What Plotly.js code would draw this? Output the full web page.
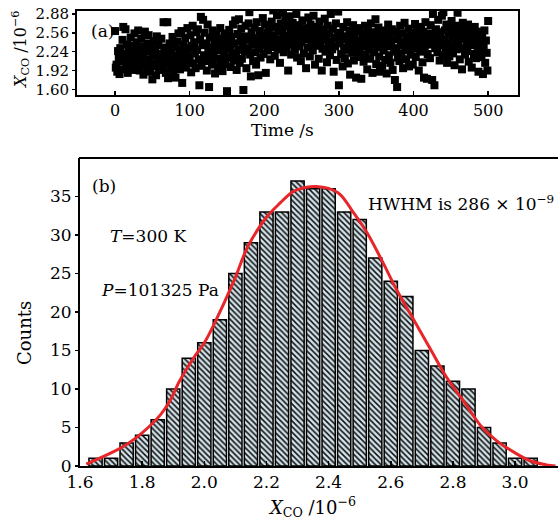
<!DOCTYPE html>
<html><head><meta charset="utf-8">
<script src="https://cdn.plot.ly/plotly-3.0.1.min.js"></script>
<style>html,body{margin:0;padding:0;background:#fff;}#chart{width:558px;height:523px;}</style>
</head><body><div id="chart"></div>
<script>
// Panel (a): X_CO concentration (10^-6) sampled once per second, 0..500 s
const concValues = [
2.59,1.97,2.02,1.90,2.25,2.12,1.86,2.30,2.08,2.18,
2.44,2.66,1.94,2.20,2.62,2.05,2.36,1.88,2.27,2.14,
2.00,2.48,2.22,1.93,2.34,2.10,2.55,1.98,2.16,2.40,
2.05,2.60,2.28,1.92,2.12,2.46,2.02,2.21,1.85,2.33,
2.58,2.08,2.24,1.96,2.38,2.52,2.11,1.90,2.29,2.04,
1.77,2.18,2.42,1.99,2.26,1.84,2.50,2.09,2.35,1.93,
2.20,2.03,2.46,2.13,1.95,2.74,2.31,2.07,1.88,2.22,
2.74,1.79,2.15,2.38,1.98,2.27,2.06,2.49,1.91,2.17,
2.32,1.80,2.10,2.41,2.01,2.55,2.19,1.94,2.28,2.59,
1.71,2.12,2.36,2.05,2.47,1.97,2.23,2.64,2.09,2.30,
2.16,2.52,1.89,2.34,2.68,2.04,2.40,2.21,1.96,2.57,
2.27,2.62,2.11,1.67,2.45,2.83,2.00,2.35,2.78,2.18,
2.56,2.08,2.38,1.92,2.70,2.25,1.64,2.48,2.14,2.31,
2.02,2.60,2.22,2.43,1.87,2.33,2.53,2.12,1.99,2.40,
2.26,2.64,2.06,2.46,1.91,2.36,2.18,2.55,2.03,2.29,
1.57,2.44,2.14,2.61,2.32,1.98,2.49,2.21,2.70,2.09,
2.38,2.77,2.17,1.93,2.54,2.27,2.79,2.05,2.42,2.63,
2.12,2.35,1.59,2.50,2.24,2.68,1.96,2.44,2.30,2.72,
2.91,2.19,1.82,2.57,2.36,2.08,2.47,2.65,2.23,2.02,
2.74,2.41,1.84,2.29,2.59,2.14,2.50,2.34,2.81,2.20,
2.46,2.70,1.88,2.38,2.56,2.26,2.63,2.42,2.11,2.52,
2.75,2.32,2.94,2.48,2.17,2.66,2.40,2.86,2.28,2.58,
2.45,2.05,2.72,2.35,2.61,2.90,2.23,2.51,2.78,2.39,
2.30,2.67,1.92,2.47,2.84,2.56,2.19,2.42,2.73,2.36,
2.62,2.27,2.50,2.88,2.14,2.44,2.69,2.33,2.58,2.08,
2.40,2.77,2.52,2.21,2.64,2.45,1.96,2.55,2.31,2.82,
2.48,2.16,2.70,2.37,2.60,2.26,2.85,2.43,2.02,2.53,
2.34,2.66,2.46,2.12,2.75,2.39,2.57,1.92,2.29,2.62,
2.50,2.80,2.24,2.44,2.06,2.68,2.36,2.55,2.18,2.88,
2.41,2.28,2.63,1.90,2.47,2.33,2.72,2.10,2.52,2.92,
1.67,2.38,2.56,2.20,2.45,1.99,2.66,2.31,2.13,2.50,
2.27,2.74,2.04,2.42,2.60,1.85,2.35,2.53,2.22,2.69,
2.09,2.46,2.30,1.80,2.58,2.37,2.15,2.64,2.25,2.43,
1.78,2.33,2.55,2.07,2.48,2.68,2.19,2.40,1.94,2.61,
2.28,2.51,2.12,2.72,2.36,1.88,2.47,2.23,2.57,2.79,
2.03,2.43,2.31,2.65,2.16,1.90,2.54,2.38,2.00,2.49,
2.26,2.60,2.10,2.41,1.87,2.33,2.70,2.18,2.52,2.05,
2.36,2.62,1.93,2.45,2.24,1.76,2.58,2.30,1.64,2.14,
2.47,2.08,2.68,2.35,2.21,2.55,1.96,2.40,2.73,2.27,
2.11,2.50,2.32,2.63,1.99,2.44,2.19,2.57,2.38,2.02,
2.54,2.29,2.71,2.15,2.46,2.62,2.37,1.92,2.51,2.24,
2.66,2.40,2.06,2.58,1.80,2.33,2.74,2.48,1.78,2.20,
2.55,2.36,2.13,2.69,2.44,1.76,2.88,2.52,1.67,2.30,
2.62,2.41,2.23,2.78,2.47,2.09,2.57,2.35,2.85,2.18,
2.91,2.45,2.60,2.27,2.70,2.05,2.39,2.53,2.16,2.66,
2.32,2.76,2.49,2.21,2.58,2.01,2.43,2.68,2.28,2.90,
2.37,2.55,2.11,2.64,2.46,1.94,2.73,2.30,2.52,2.19,
2.60,2.40,2.25,2.70,2.07,2.49,2.35,2.62,1.97,2.44,
2.55,2.20,2.66,2.38,2.13,2.58,2.31,1.90,2.47,2.27,
2.40,2.15,2.52,1.86,2.34,2.60,2.05,2.43,2.22,1.92,
2.76
];
const timeSeconds = concValues.map((_, i) => i);
const timeTicks = [0, 100, 200, 300, 400, 500];
const concTicks = [1.60, 1.92, 2.24, 2.56, 2.88];
const concTickText = ['1.60', '1.92', '2.24', '2.56', '2.88'];

// Panel (b): histogram bins (centres, 10^-6) and counts
const binCenters = [1.65,1.70,1.75,1.80,1.85,1.90,1.95,2.00,2.05,2.10,2.15,2.20,2.25,2.30,2.35,
                    2.40,2.45,2.50,2.55,2.60,2.65,2.70,2.75,2.80,2.85,2.90,2.95,3.00,3.05];
const binCounts  = [1,1,3,4,6,10,14,16,19,25,29,33,33,37,36,
                    36,33,32,27,24,22,15,13,11,10,5,3,1,1];
// Gaussian fit curve
const fitX = [1.62,1.70,1.75,1.80,1.86,1.89,1.92,1.965,2.00,2.03,2.095,2.14,2.20,2.245,2.28,2.30,2.36,
              2.43,2.48,2.525,2.57,2.62,2.675,2.73,2.78,2.84,2.89,2.94,3.00,3.05,3.10,3.13];
const fitY = [0.25,1.7,2.8,4.3,6.7,8.5,11.0,14.0,16.0,18.3,24.0,28.5,32.3,34.2,35.5,35.9,36.3,
              35.5,32.9,30.2,26.8,22.8,18.9,15.0,11.5,8.1,5.2,3.3,1.7,0.65,0.15,0.0];
const countTicks = [0,5,10,15,20,25,30,35];
const xcoTicks = [1.6,1.8,2.0,2.2,2.4,2.6,2.8,3.0];

const W = 558, H = 523;
const px = x => x / W;
const py = y => (H - y) / H;
const FONT = 'DejaVu Serif, Liberation Serif, serif';
const XCO = '<i>X</i><sub>CO</sub> /10<sup>−6</sup>';

const traces = [
  {type:'scatter', mode:'markers', x: timeSeconds, y: concValues, xaxis:'x', yaxis:'y',
   marker:{symbol:'square', size:8, color:'#000'}, hoverinfo:'skip'},
  {type:'bar', x: binCenters, y: binCounts, xaxis:'x2', yaxis:'y2',
   marker:{color:'#d2e2e8', line:{color:'#000', width:1.5},
           pattern:{shape:'\\', fgcolor:'#111', bgcolor:'#d2e2e8', size:4, solidity:0.38}}},
  {type:'scatter', mode:'lines', x: fitX, y: fitY, xaxis:'x2', yaxis:'y2',
   line:{color:'#e8262a', width:3, shape:'spline'}}
];

const axisBase = {showline:true, linecolor:'#000', linewidth:2, showgrid:false, zeroline:false,
                  ticks:'inside', tickcolor:'#000', ticklen:4, tickwidth:1.5,
                  tickfont:{family:FONT, size:17, color:'#000'}, fixedrange:true};

function ann(text, x, y, size, extra) {
  return Object.assign({text:text, x:px(x), y:py(y), xref:'paper', yref:'paper', showarrow:false,
    xanchor:'center', yanchor:'middle', font:{family:FONT, size:size, color:'#000'}}, extra || {});
}

const layout = {
  width: W, height: H, showlegend:false, bargap:0.15,
  margin:{l:0, r:0, t:0, b:0}, paper_bgcolor:'#fff', plot_bgcolor:'#fff',
  font:{family:FONT, color:'#000'},
  xaxis: Object.assign({}, axisBase, {domain:[px(77), px(518)], anchor:'y', range:[-51, 540],
          tickvals: timeTicks, mirror:true, ticklabelstandoff:0, tickfont:{family:FONT, size:16, color:'#000'}}),
  yaxis: Object.assign({}, axisBase, {domain:[py(95), py(11)], anchor:'x', range:[1.505, 2.93],
          tickvals: concTicks, ticktext: concTickText, mirror:true, ticks:'outside', ticklen:3,
          tickfont:{family:FONT, size:15, color:'#000'}}),
  xaxis2: Object.assign({}, axisBase, {domain:[px(80), 1], anchor:'y2', range:[1.6, 3.138],
          tickvals: xcoTicks, tickformat:'.1f', mirror:false, ticklen:5}),
  yaxis2: Object.assign({}, axisBase, {domain:[py(466), py(158)], anchor:'x2', range:[0, 40],
          tickvals: countTicks, ticks:'outside', ticklen:3, mirror:false}),
  shapes: [
    {type:'line', xref:'paper', yref:'paper', x0:px(79), x1:1, y0:py(158), y1:py(158),
     line:{color:'#000', width:2}}
  ],
  annotations: [
    ann('(a)', 102, 31, 17),
    ann('Time /s', 282, 130, 17),
    ann(XCO, 20, 50, 16, {textangle:-90}),
    ann('(b)', 104, 186, 17),
    ann('<i>T</i>=300 K', 148, 236, 17),
    ann('<i>P</i>=101325 Pa', 160, 290, 17),
    ann('HWHM is 286 × 10<sup>−9</sup>', 461, 203, 17),
    ann('Counts', 24, 333, 18, {textangle:-90}),
    ann(XCO, 312, 507, 18)
  ]
};

Plotly.newPlot('chart', traces, layout, {displayModeBar:false, staticPlot:true});
</script></body></html>
